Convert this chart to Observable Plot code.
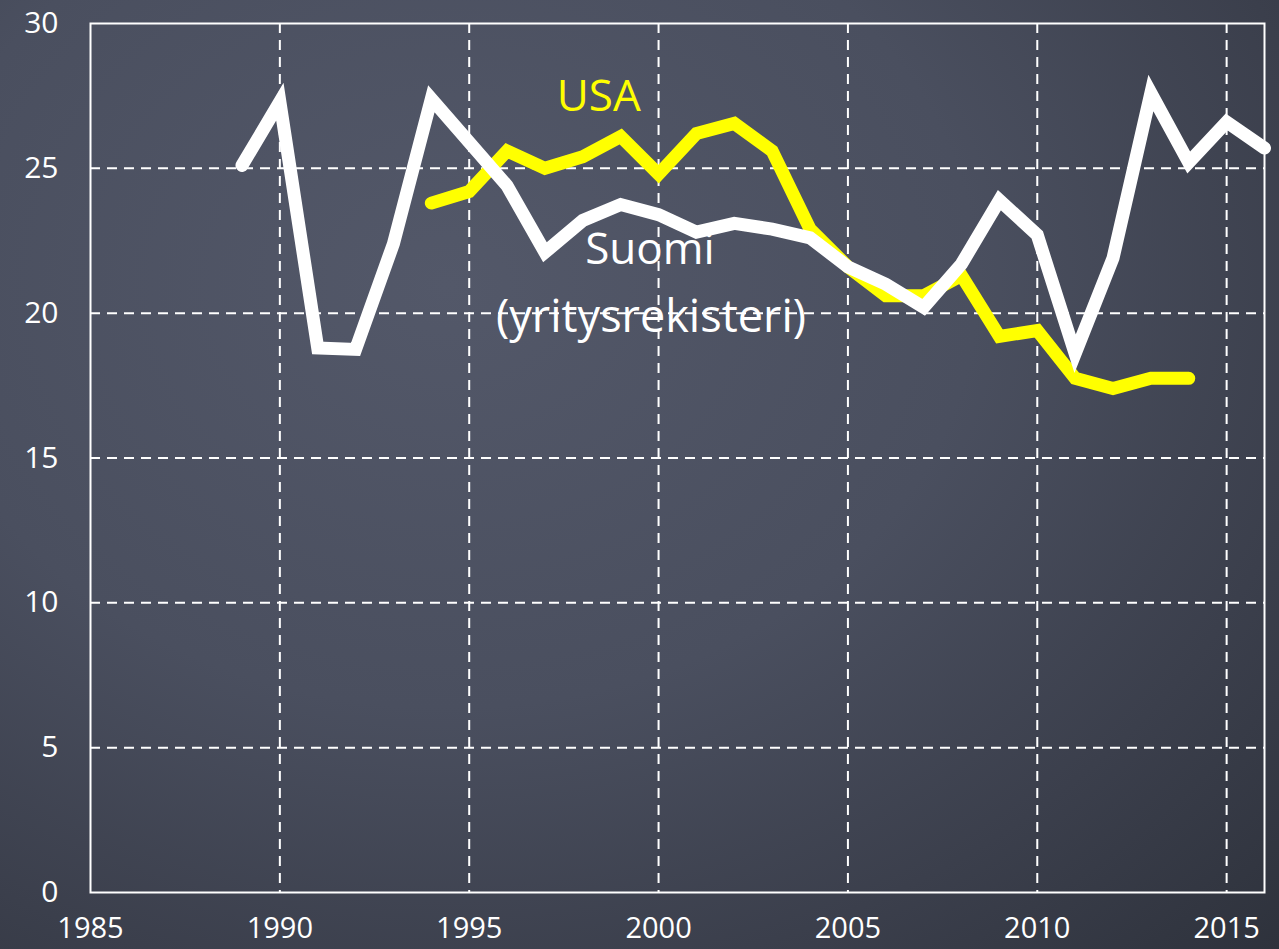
<!DOCTYPE html>
<html>
<head>
<meta charset="utf-8">
<script src="https://cdn.jsdelivr.net/npm/d3@7"></script>
<script src="https://cdn.jsdelivr.net/npm/@observablehq/plot@0.6"></script>
<style>
  html, body { margin: 0; padding: 0; }
  body {
    width: 1279px; height: 949px; overflow: hidden;
    background: radial-gradient(ellipse at 35% 30%, #535869 0%, #4a4f5f 45%, #3b3f4c 75%, #2e323c 100%);
  }
  #chart svg { display: block; }
</style>
</head>
<body>
<div id="chart"></div>
<script>
// Suomi (yritysrekisteri), 1989–2016
const suomiYears = [1989,1990,1991,1992,1993,1994,1995,1996,1997,1998,1999,2000,2001,2002,2003,2004,2005,2006,2007,2008,2009,2010,2011,2012,2013,2014,2015,2016];
const suomiValues = [25.1,27.3,18.8,18.75,22.4,27.4,25.9,24.4,22.1,23.2,23.75,23.4,22.8,23.1,22.9,22.6,21.6,21.0,20.2,21.7,23.9,22.7,18.6,21.9,27.6,25.2,26.6,25.7];

// USA, 1994–2014
const usaYears = [1994,1995,1996,1997,1998,1999,2000,2001,2002,2003,2004,2005,2006,2007,2008,2009,2010,2011,2012,2013,2014];
const usaValues = [23.8,24.2,25.6,25.0,25.4,26.1,24.8,26.2,26.55,25.6,22.9,21.6,20.6,20.6,21.3,19.2,19.4,17.75,17.4,17.75,17.75];

const xTicks = [1985,1990,1995,2000,2005,2010,2015];
const yTicks = [0,5,10,15,20,25,30];
const seriesLabels = ["USA", "Suomi", "(yritysrekisteri)"];

const suomi = suomiYears.map((year, i) => ({year, value: suomiValues[i]}));
const usa = usaYears.map((year, i) => ({year, value: usaValues[i]}));

const chart = Plot.plot({
  width: 1279,
  height: 949,
  marginLeft: 90,
  marginTop: 23,
  marginRight: 15,
  marginBottom: 57,
  style: {
    background: "transparent",
    color: "white",
    fontFamily: "'Open Sans', sans-serif",
    fontSize: "29px"
  },
  x: {domain: [1985, 2016]},
  y: {domain: [0, 30]},
  marks: [
    Plot.gridX(xTicks.slice(1), {stroke: "white", strokeOpacity: 1, strokeWidth: 2, strokeDasharray: "10,7"}),
    Plot.gridY(yTicks.slice(1, -1), {stroke: "white", strokeOpacity: 1, strokeWidth: 2, strokeDasharray: "10,7"}),
    Plot.frame({stroke: "white", strokeWidth: 2}),
    Plot.axisX({ticks: xTicks, tickFormat: d => String(d), tickSize: 0, tickPadding: 25, label: null, fontSize: 29}),
    Plot.axisY({ticks: yTicks, tickSize: 0, tickPadding: 32, label: null, fontSize: 30}),
    Plot.line(usa, {x: "year", y: "value", stroke: "#ffff00", strokeWidth: 13, strokeLinecap: "round", strokeLinejoin: "miter", strokeMiterlimit: 3}),
    Plot.line(suomi, {x: "year", y: "value", stroke: "white", strokeWidth: 13, strokeLinecap: "round", strokeLinejoin: "miter", strokeMiterlimit: 3}),
    Plot.text([seriesLabels[0]], {x: () => 1998.42, y: () => 27.45, text: d => d, fill: "#ffff00", fontSize: 44, textAnchor: "middle"}),
    Plot.text([seriesLabels[1]], {x: () => 1999.77, y: () => 22.2, text: d => d, fill: "white", fontSize: 44, textAnchor: "middle"}),
    Plot.text([seriesLabels[2]], {x: () => 1999.8, y: () => 19.85, text: d => d, fill: "white", fontSize: 45, textAnchor: "middle"})
  ]
});
document.getElementById("chart").appendChild(chart);
</script>
</body>
</html>
